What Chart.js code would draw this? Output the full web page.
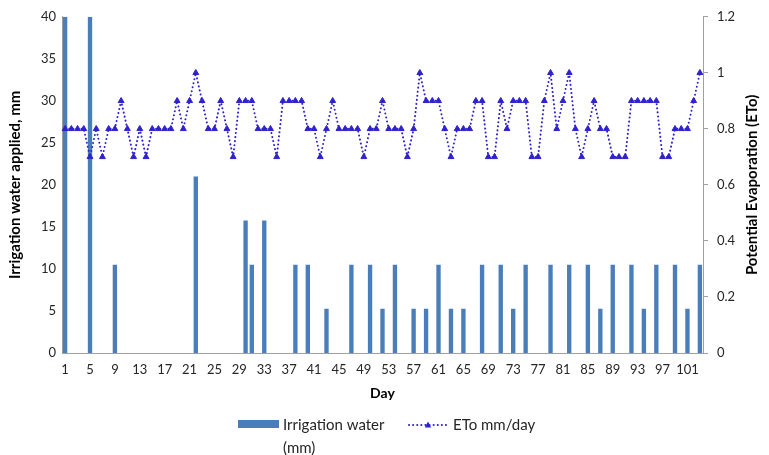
<!DOCTYPE html>
<html>
<head>
<meta charset="utf-8">
<script src="https://cdn.jsdelivr.net/npm/chart.js@4.4.0/dist/chart.umd.min.js"></script>
<style>
  html, body { margin: 0; padding: 0; background: #fff; }
  canvas { display: block; }
</style>
</head>
<body>
<canvas id="chart" width="769" height="455"></canvas>
<script>
// Daily irrigation (mm, left axis) and reference evapotranspiration (right axis)
const days = Array.from({ length: 103 }, (_, i) => String(i + 1));

const irrigation = [
  40, 0, 0, 0, 40, 0, 0, 0, 10.5, 0,
  0, 0, 0, 0, 0, 0, 0, 0, 0, 0,
  0, 21, 0, 0, 0, 0, 0, 0, 0, 15.75,
  10.5, 0, 15.75, 0, 0, 0, 0, 10.5, 0, 10.5,
  0, 0, 5.25, 0, 0, 0, 10.5, 0, 0, 10.5,
  0, 5.25, 0, 10.5, 0, 0, 5.25, 0, 5.25, 0,
  10.5, 0, 5.25, 0, 5.25, 0, 0, 10.5, 0, 0,
  10.5, 0, 5.25, 0, 10.5, 0, 0, 0, 10.5, 0,
  0, 10.5, 0, 0, 10.5, 0, 5.25, 0, 10.5, 0,
  0, 10.5, 0, 5.25, 0, 10.5, 0, 0, 10.5, 0,
  5.25, 0, 10.5
];

const eto = [
  0.8, 0.8, 0.8, 0.8, 0.7, 0.8, 0.7, 0.8, 0.8, 0.9,
  0.8, 0.7, 0.8, 0.7, 0.8, 0.8, 0.8, 0.8, 0.9, 0.8,
  0.9, 1.0, 0.9, 0.8, 0.8, 0.9, 0.8, 0.7, 0.9, 0.9,
  0.9, 0.8, 0.8, 0.8, 0.7, 0.9, 0.9, 0.9, 0.9, 0.8,
  0.8, 0.7, 0.8, 0.9, 0.8, 0.8, 0.8, 0.8, 0.7, 0.8,
  0.8, 0.9, 0.8, 0.8, 0.8, 0.7, 0.8, 1.0, 0.9, 0.9,
  0.9, 0.8, 0.7, 0.8, 0.8, 0.8, 0.9, 0.9, 0.7, 0.7,
  0.9, 0.8, 0.9, 0.9, 0.9, 0.7, 0.7, 0.9, 1.0, 0.8,
  0.9, 1.0, 0.8, 0.7, 0.8, 0.9, 0.8, 0.8, 0.7, 0.7,
  0.7, 0.9, 0.9, 0.9, 0.9, 0.9, 0.7, 0.7, 0.8, 0.8,
  0.8, 0.9, 1.0
];

const dayTickStep = 4;           // label every 4th day: 1, 5, 9, ...
const waterTicks = { min: 0, max: 40, step: 5 };
const etoTicks = { min: 0, max: 1.2, step: 0.2 };

const barLabel = ['Irrigation water', '(mm)'];
const lineLabel = 'ETo mm/day';
const leftTitle = 'Irrigation water applied, mm';
const rightTitle = 'Potential Evaporation (ETo)';
const xTitle = 'Day';

const BAR_COLOR = '#4a7ebb';
const LINE_COLOR = '#2f22cc';
const AXIS_COLOR = '#a0a0a0';
const TEXT_COLOR = '#262626';
const FONT = 'Lato, "Open Sans", sans-serif';

// legend under the axis title and the right-hand title (reads bottom to top)
const extras = {
  id: 'extras',
  afterDraw(chart) {
    const ctx = chart.ctx;
    const area = chart.chartArea;

    ctx.save();
    ctx.fillStyle = '#000';
    ctx.font = 'bold 15px ' + FONT;
    ctx.textAlign = 'center';
    ctx.textBaseline = 'middle';
    ctx.translate(752, (area.top + area.bottom) / 2);
    ctx.rotate(-Math.PI / 2);
    ctx.fillText(rightTitle, 0, 0);
    ctx.restore();

    ctx.save();
    ctx.font = '15px ' + FONT;
    ctx.textAlign = 'left';
    ctx.textBaseline = 'middle';

    const bar = chart.data.datasets[0];
    ctx.fillStyle = bar.backgroundColor;
    ctx.fillRect(238, 420, 41, 8);
    ctx.fillStyle = TEXT_COLOR;
    ctx.fillText(barLabel[0], 283, 425);
    ctx.fillText(barLabel[1], 283, 448);

    const line = chart.data.datasets[1];
    ctx.strokeStyle = line.borderColor;
    ctx.lineWidth = 2;
    ctx.lineCap = 'round';
    ctx.setLineDash([0.1, 4]);
    ctx.beginPath();
    ctx.moveTo(409, 425);
    ctx.lineTo(448, 425);
    ctx.stroke();
    ctx.setLineDash([]);
    ctx.fillStyle = line.borderColor;
    ctx.beginPath();
    ctx.moveTo(428, 421.5);
    ctx.lineTo(431.2, 427.5);
    ctx.lineTo(424.8, 427.5);
    ctx.closePath();
    ctx.fill();

    ctx.fillStyle = TEXT_COLOR;
    ctx.fillText(lineLabel, 453, 425);
    ctx.restore();
  }
};

new Chart(document.getElementById('chart'), {
  data: {
    labels: days,
    datasets: [
      {
        type: 'bar',
        label: barLabel.join(' '),
        data: irrigation,
        yAxisID: 'yWater',
        backgroundColor: BAR_COLOR,
        borderWidth: 0,
        barPercentage: 0.7,
        categoryPercentage: 1,
        order: 2
      },
      {
        type: 'line',
        label: lineLabel,
        data: eto,
        yAxisID: 'yEto',
        borderColor: LINE_COLOR,
        backgroundColor: LINE_COLOR,
        borderWidth: 2,
        borderDash: [0.1, 4],
        borderCapStyle: 'round',
        tension: 0,
        fill: false,
        pointStyle: 'triangle',
        pointRadius: 3.4,
        pointBorderWidth: 1,
        pointBackgroundColor: LINE_COLOR,
        pointBorderColor: LINE_COLOR,
        order: 1
      }
    ]
  },
  options: {
    animation: false,
    responsive: false,
    layout: { padding: { top: 15, left: 0, right: 0, bottom: 0 } },
    plugins: {
      legend: { display: false },
      tooltip: { enabled: false }
    },
    scales: {
      x: {
        type: 'category',
        offset: true,
        grid: { display: false, drawTicks: false },
        border: { display: true, color: AXIS_COLOR, width: 1 },
        ticks: {
          autoSkip: false,
          maxRotation: 0,
          padding: 9,
          color: TEXT_COLOR,
          font: { family: FONT, size: 13 },
          callback(value, index) {
            return index % dayTickStep === 0 ? this.getLabelForValue(value) : '';
          }
        },
        title: {
          display: true,
          text: xTitle,
          color: '#000',
          font: { family: FONT, size: 14, weight: 'bold' },
          padding: { top: 0, bottom: 53 }
        },
        afterFit(scale) { scale.height = 102; }
      },
      yWater: {
        type: 'linear',
        position: 'left',
        min: waterTicks.min,
        max: waterTicks.max,
        grid: { display: false, drawTicks: false },
        border: { display: true, color: AXIS_COLOR, width: 1 },
        ticks: {
          stepSize: waterTicks.step,
          padding: 6,
          color: TEXT_COLOR,
          font: { family: FONT, size: 13 }
        },
        title: {
          display: true,
          text: leftTitle,
          color: '#000',
          font: { family: FONT, size: 15, weight: 'bold' },
          padding: { top: 6, bottom: 0 }
        },
        afterFit(scale) { scale.width = 62; }
      },
      yEto: {
        type: 'linear',
        position: 'right',
        min: etoTicks.min,
        max: etoTicks.max,
        grid: {
          display: true,
          drawOnChartArea: false,
          drawTicks: true,
          tickLength: 5,
          color: AXIS_COLOR
        },
        border: { display: true, color: AXIS_COLOR, width: 1 },
        ticks: {
          stepSize: etoTicks.step,
          padding: 9,
          color: TEXT_COLOR,
          font: { family: FONT, size: 13 },
          callback: v => String(Math.round(v * 10) / 10)
        },
        afterFit(scale) { scale.width = 66; }
      }
    }
  },
  plugins: [extras]
});
</script>
</body>
</html>
